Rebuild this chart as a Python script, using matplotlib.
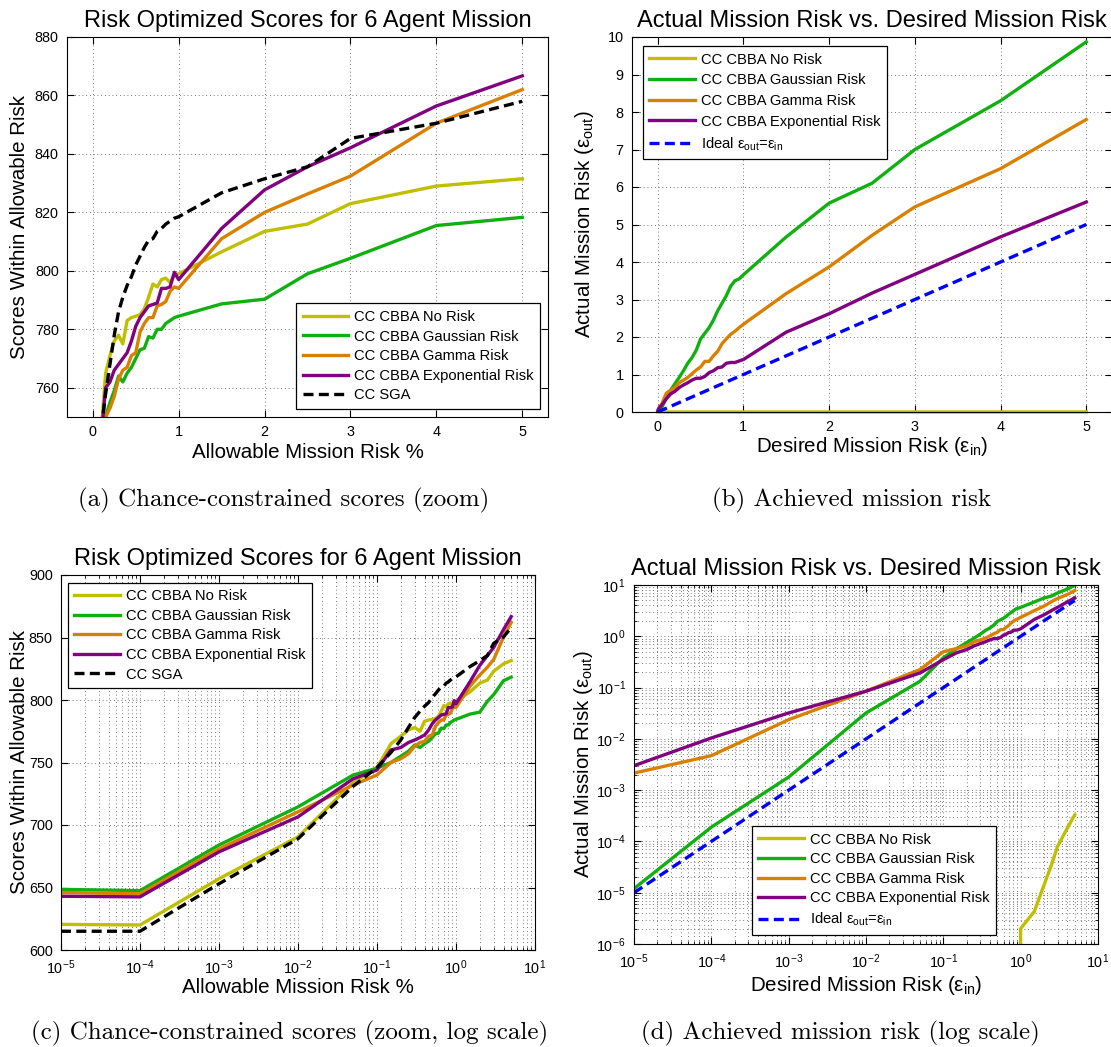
import matplotlib
matplotlib.use('Agg')
import matplotlib.pyplot as plt
from matplotlib.ticker import LogLocator, NullFormatter

plt.rcParams['font.family'] = ['Liberation Sans', 'DejaVu Sans']
plt.rcParams['mathtext.fontset'] = 'custom'
plt.rcParams['mathtext.rm'] = 'Liberation Sans'
plt.rcParams['mathtext.it'] = 'Liberation Sans:italic'
plt.rcParams['mathtext.default'] = 'regular'

# desired / allowable mission risk (same grid for every series)
risk_in = [1e-5, 1e-4, 1e-3, 1e-2, 0.05, 0.1, 0.15, 0.2, 0.25, 0.3, 0.35, 0.4, 0.45,
           0.5, 0.55, 0.6, 0.65, 0.7, 0.75, 0.8, 0.85, 0.9, 0.95, 1.0, 1.5, 2, 2.5, 3, 4, 5]

# scores within allowable risk
score_none = [620.5, 620, 657, 690.5, 734, 746, 765, 771, 776, 778, 775, 783, 784, 784.5,
              785, 787, 791, 795.5, 794.5, 797, 797.5, 796, 798.5, 799, 806.5, 813.5, 816, 823, 829, 831.5]
score_gauss = [648.5, 647.5, 684, 714.5, 740, 745.5, 750, 755, 759, 764, 762, 765, 767, 770,
               773, 773.5, 777.5, 777, 780, 780, 782, 783, 784, 784.5, 788.7, 790.3, 799, 804.3, 815.5, 818.3]
score_gamma = [646, 645, 681, 710.5, 732, 740, 750, 753, 757, 763, 766, 767, 771, 772,
               779, 782, 784, 784, 788, 788.5, 789.5, 793, 794.5, 794, 811, 820, 826.3, 832.4, 850.5, 862]
score_exp = [643, 642.5, 678.5, 706.5, 737, 744, 760, 762, 766, 768, 770, 772, 776, 781,
             784, 786, 788, 788.5, 789, 794, 794, 794.5, 799.5, 797, 814.5, 827.7, 835.6, 842.1, 856.4, 866.7]
score_sga = [615, 615, 653, 689, 731, 746, 758, 768, 778, 786, 791, 795, 798, 802,
             805, 808, 810.5, 811, 813.5, 814.5, 816, 817, 818, 818.5, 826.7, 831.5, 835.6, 845.3, 850.5, 858]

# achieved (actual) mission risk
risk_none = [0, 0, 0, 0, 0, 0, 0, 0, 0, 0, 0, 0, 0, 0, 0, 0, 0, 0, 0, 0, 0, 0,
             1e-8, 2e-6, 4.3e-6, 1.4e-5, 3.5e-5, 8e-5, 1.8e-4, 3.3e-4]
risk_gauss = [1.2e-5, 1.9e-4, 1.8e-3, 0.032, 0.133, 0.38, 0.58, 0.75, 0.92, 1.1, 1.3, 1.45, 1.65, 1.95,
              2.1, 2.25, 2.45, 2.7, 2.9, 3.1, 3.35, 3.5, 3.55, 3.66, 4.67, 5.57, 6.1, 7.0, 8.3, 9.87]
risk_gamma = [2.15e-3, 4.7e-3, 0.0237, 0.085, 0.225, 0.5, 0.58, 0.65, 0.78, 0.85, 0.92, 1.02, 1.12, 1.2,
              1.35, 1.35, 1.5, 1.62, 1.82, 1.95, 2.07, 2.15, 2.25, 2.34, 3.16, 3.87, 4.71, 5.47, 6.49, 7.8]
risk_exp = [3.0e-3, 0.0104, 0.032, 0.085, 0.193, 0.35, 0.48, 0.55, 0.65, 0.72, 0.78, 0.85, 0.9, 0.9,
            0.95, 1.05, 1.1, 1.18, 1.2, 1.3, 1.32, 1.32, 1.36, 1.4, 2.13, 2.62, 3.17, 3.67, 4.67, 5.6]

labels = ['CC CBBA No Risk', 'CC CBBA Gaussian Risk', 'CC CBBA Gamma Risk', 'CC CBBA Exponential Risk']
colors = ['#bfbf00', '#10b010', '#d98000', '#800080']
lw = 2.4
dash = (3.0, 1.6)

title_fs = 17
label_fs = 14.8
tick_fs = 10.4
leg_fs = 10.6

fig = plt.figure(figsize=(11.11, 10.47), dpi=100)
W, H = 1111.0, 1047.0


def make_axes(l, r, t, b):
    return fig.add_axes([l / W, 1 - b / H, (r - l) / W, (b - t) / H])


def style(ax, logx=False, logy=False):
    ax.tick_params(which='both', direction='in', top=True, right=True, labelsize=tick_fs, pad=6)
    ax.tick_params(which='major', length=5)
    ax.tick_params(which='minor', length=2.5)
    gkw = dict(color='0.3', linewidth=0.6, linestyle=(0, (1, 3.5)))
    ax.grid(True, which='major', **gkw)
    if logx:
        ax.xaxis.set_minor_locator(LogLocator(base=10, subs=range(2, 10), numticks=20))
        ax.xaxis.set_minor_formatter(NullFormatter())
        ax.grid(True, which='minor', axis='x', **gkw)
    if logy:
        ax.yaxis.set_minor_locator(LogLocator(base=10, subs=range(2, 10), numticks=20))
        ax.yaxis.set_minor_formatter(NullFormatter())
        ax.grid(True, which='minor', axis='y', **gkw)
    for s in ax.spines.values():
        s.set_linewidth(0.8)


def legend(ax, spacing=0.38, **kw):
    leg = ax.legend(fontsize=leg_fs, frameon=True, fancybox=False, edgecolor='k', framealpha=1,
                    handlelength=3.1, handletextpad=0.4, borderaxespad=0, labelspacing=spacing,
                    borderpad=0.45, **kw)
    leg.get_frame().set_linewidth(0.9)
    return leg


scores = [score_none, score_gauss, score_gamma, score_exp]
risks = [risk_none, risk_gauss, risk_gamma, risk_exp]

# (a) scores, linear zoom
ax = make_axes(67, 548, 37, 417)
for y, c, lab in zip(scores, colors, labels):
    ax.plot(risk_in, y, color=c, lw=lw, label=lab)
ax.plot(risk_in, score_sga, color='k', lw=lw, dashes=dash, label='CC SGA')
ax.set_xlim(-0.3, 5.3)
ax.set_ylim(750, 880)
ax.set_xticks([0, 1, 2, 3, 4, 5])
ax.set_yticks([760, 780, 800, 820, 840, 860, 880])
style(ax)
ax.set_title('Risk Optimized Scores for 6 Agent Mission', fontsize=title_fs, pad=7)
ax.set_xlabel('Allowable Mission Risk %', fontsize=label_fs)
ax.set_ylabel('Scores Within Allowable Risk', fontsize=label_fs)
ax.xaxis.set_label_coords(0.5, -0.068)
ax.yaxis.set_label_coords(-0.08, 0.5)
legend(ax, loc='lower left', bbox_to_anchor=(0.476, 0.021))

# (b) achieved risk, linear
ax = make_axes(632, 1112, 37, 412)
for y, c, lab in zip(risks, colors, labels):
    ax.plot(risk_in, y, color=c, lw=lw, label=lab, clip_on=(y is not risk_none))
ax.plot(risk_in, risk_in, color='#0000ff', lw=lw, dashes=dash, label='Ideal ε$_{out}$=ε$_{in}$')
ax.set_xlim(-0.3, 5.3)
ax.set_ylim(0, 10)
ax.set_xticks([0, 1, 2, 3, 4, 5])
ax.set_yticks(range(0, 11))
style(ax)
ax.set_title('Actual Mission Risk vs. Desired Mission Risk', fontsize=title_fs, pad=7)
ax.set_xlabel('Desired Mission Risk (ε$_{in}$)', fontsize=label_fs)
ax.set_ylabel('Actual Mission Risk (ε$_{out}$)', fontsize=label_fs)
ax.xaxis.set_label_coords(0.5, -0.06)
ax.yaxis.set_label_coords(-0.075, 0.5)
legend(ax, spacing=0.45, loc='upper left', bbox_to_anchor=(0.022, 0.976))

# (c) scores, log x
ax = make_axes(61, 535, 575, 950)
for y, c, lab in zip(scores, colors, labels):
    ax.plot(risk_in, y, color=c, lw=lw, label=lab)
ax.plot(risk_in, score_sga, color='k', lw=lw, dashes=dash, label='CC SGA')
ax.set_xscale('log')
ax.set_xlim(1e-5, 10)
ax.set_ylim(600, 900)
ax.set_yticks([600, 650, 700, 750, 800, 850, 900])
style(ax, logx=True)
ax.set_title('Risk Optimized Scores for 6 Agent Mission', fontsize=title_fs, pad=7)
ax.set_xlabel('Allowable Mission Risk %', fontsize=label_fs)
ax.set_ylabel('Scores Within Allowable Risk', fontsize=label_fs)
ax.xaxis.set_label_coords(0.5, -0.075)
ax.yaxis.set_label_coords(-0.067, 0.5)
legend(ax, loc='upper left', bbox_to_anchor=(0.014, 0.98))

# (d) achieved risk, log-log
ax = make_axes(634, 1098, 585, 944)
for y, c, lab in zip(risks, colors, labels):
    ax.plot(risk_in, y, color=c, lw=lw, label=lab)
ax.plot(risk_in, risk_in, color='#0000ff', lw=lw, dashes=dash, label='Ideal ε$_{out}$=ε$_{in}$')
ax.set_xscale('log')
ax.set_yscale('log')
ax.set_xlim(1e-5, 10)
ax.set_ylim(1e-6, 10)
style(ax, logx=True, logy=True)
ax.set_title('Actual Mission Risk vs. Desired Mission Risk', fontsize=title_fs, pad=7)
ax.set_xlabel('Desired Mission Risk (ε$_{in}$)', fontsize=label_fs)
ax.set_ylabel('Actual Mission Risk (ε$_{out}$)', fontsize=label_fs)
ax.xaxis.set_label_coords(0.5, -0.083)
ax.yaxis.set_label_coords(-0.085, 0.5)
legend(ax, loc='lower left', bbox_to_anchor=(0.2536, 0.025))

# sub-figure captions
cap = dict(fontsize=18, family='cmr10', ha='center', va='center')
fig.text(284 / W, 1 - 500 / H, '(a) Chance-constrained scores (zoom)', **cap)
fig.text(852 / W, 1 - 500 / H, '(b) Achieved mission risk', **cap)
fig.text(290 / W, 1 - 1033 / H, '(c) Chance-constrained scores (zoom, log scale)', **cap)
fig.text(840 / W, 1 - 1033 / H, '(d) Achieved mission risk (log scale)', **cap)

fig.savefig('out.png', dpi=100)
